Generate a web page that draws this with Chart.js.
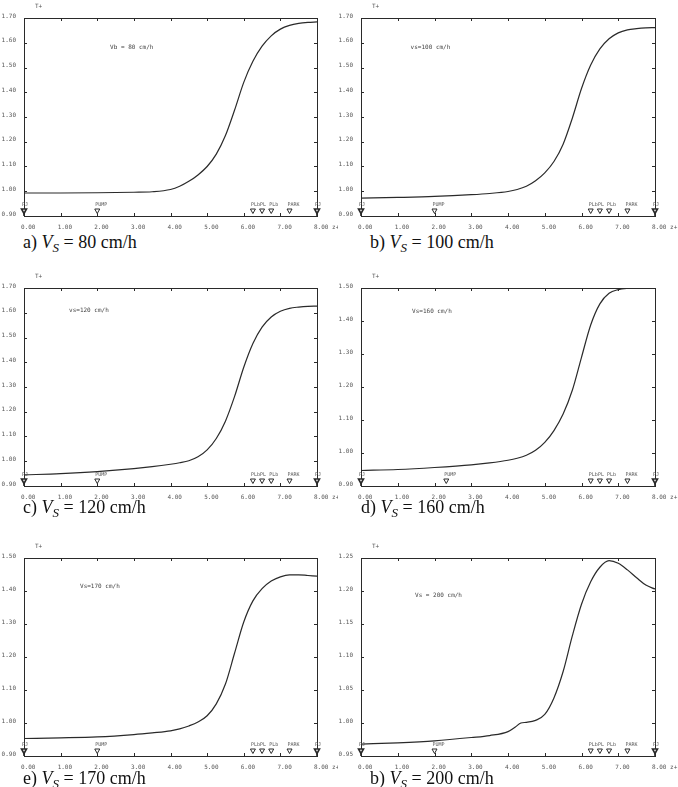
<!DOCTYPE html>
<html>
<head>
<meta charset="utf-8">
<script src="https://cdn.jsdelivr.net/npm/chart.js@4/dist/chart.umd.min.js"></script>
<style>
    body { margin: 0; background: #fff; width: 678px; height: 787px; position: relative; overflow: hidden; }
    .panel { position: absolute; }
    .caption { position: absolute; font-family: "Liberation Serif", "Times New Roman", serif; font-size: 18px; line-height: 18px; color: #111; white-space: nowrap; }
    .caption sub { font-size: 13px; vertical-align: -4px; line-height: 0; }
</style>
</head>
<body>
<script>
// DATA
const xGrid = [0, 1, 2, 3, 3.5, 4, 4.25, 4.5, 4.75, 5, 5.25, 5.5, 5.75, 6, 6.25, 6.5, 6.75, 7, 7.25, 7.5, 7.75, 8];
const seriesA = [0.993, 0.993, 0.994, 0.996, 0.998, 1.007, 1.020, 1.040, 1.066, 1.100, 1.150, 1.225, 1.328, 1.440, 1.525, 1.586, 1.628, 1.655, 1.670, 1.678, 1.682, 1.684];
const seriesB = [0.972, 0.975, 0.979, 0.986, 0.991, 0.999, 1.007, 1.020, 1.042, 1.074, 1.120, 1.190, 1.295, 1.415, 1.510, 1.575, 1.616, 1.640, 1.652, 1.657, 1.660, 1.661];
const seriesC = [0.945, 0.950, 0.958, 0.970, 0.978, 0.988, 0.994, 1.002, 1.018, 1.046, 1.092, 1.162, 1.262, 1.380, 1.476, 1.542, 1.583, 1.606, 1.618, 1.623, 1.626, 1.627];
const seriesD = [0.947, 0.950, 0.956, 0.964, 0.970, 0.978, 0.984, 0.993, 1.008, 1.032, 1.068, 1.118, 1.190, 1.290, 1.388, 1.452, 1.484, 1.495, 1.499, 1.500, 1.500, 1.500];
const seriesE = [0.953, 0.955, 0.958, 0.965, 0.970, 0.976, 0.982, 0.991, 1.003, 1.022, 1.058, 1.118, 1.212, 1.306, 1.370, 1.407, 1.430, 1.443, 1.449, 1.449, 1.447, 1.445];
const xGridF = [0, 1, 2, 3, 3.5, 4, 4.2, 4.35, 4.5, 4.75, 5, 5.25, 5.5, 5.75, 6, 6.25, 6.5, 6.75, 7, 7.25, 7.5, 7.75, 8];
const seriesF = [0.968, 0.970, 0.973, 0.978, 0.981, 0.987, 0.994, 1.000, 1.001, 1.004, 1.013, 1.038, 1.078, 1.132, 1.180, 1.214, 1.236, 1.246, 1.242, 1.232, 1.220, 1.209, 1.203];

const xTicks = [0, 1, 2, 3, 4, 5, 6, 7, 8];
const xTickLabels = ['0.00', '1.00', '2.00', '3.00', '4.00', '5.00', '6.00', '7.00', '8.00 z+'];
const yTicksWide = [0.90, 1.00, 1.10, 1.20, 1.30, 1.40, 1.50, 1.60, 1.70];
const yTicksMid = [0.90, 1.00, 1.10, 1.20, 1.30, 1.40, 1.50];
const yTicksNarrow = [0.95, 1.00, 1.05, 1.10, 1.15, 1.20, 1.25];

const markerNames = ['PJ', 'PUMP', 'PLb', 'PL', 'PLb', 'PARK', 'PJ'];
const markerPos = [0, 2.0, 6.25, 6.5, 6.75, 7.25, 8];
const markerPosD = [0, 2.32, 6.25, 6.5, 6.75, 7.25, 8];

const noteTexts = ['Vb = 80 cm/h', 'vs=100 cm/h', 'vs=120 cm/h', 'Vs=160 cm/h', 'Vs=170 cm/h', 'Vs = 200 cm/h'];
const speeds = ['80', '100', '120', '160', '170', '200'];
const letters = ['a)', 'b)', 'c)', 'd)', 'e)', 'b)'];

// LAYOUT
const panels = [
    { x: xGrid, y: seriesA, yTicks: yTicksWide, markers: markerPos, left: 0, top: 0, w: 338, note: [2.35, 1.58], cap: [23, 233] },
    { x: xGrid, y: seriesB, yTicks: yTicksWide, markers: markerPos, left: 338, top: 0, w: 340, note: [1.35, 1.58], cap: [370, 233] },
    { x: xGrid, y: seriesC, yTicks: yTicksWide, markers: markerPos, left: 0, top: 270, w: 338, note: [1.23, 1.61], cap: [23, 498] },
    { x: xGrid, y: seriesD, yTicks: yTicksMid, markers: markerPosD, left: 338, top: 270, w: 340, note: [1.39, 1.43], cap: [361, 498] },
    { x: xGrid, y: seriesE, yTicks: yTicksMid, markers: markerPos, left: 0, top: 540, w: 338, note: [1.53, 1.415], cap: [23, 769] },
    { x: xGridF, y: seriesF, yTicks: yTicksNarrow, markers: markerPos, left: 338, top: 540, w: 340, note: [1.47, 1.194], cap: [370, 769] }
];
const areaLeft = 24, areaTop = 18, areaRight = 317, areaBottom = 216, canvasH = 232;
const smallFont = '6px "DejaVu Sans Mono", monospace';
const tinyFont = '5px "DejaVu Sans Mono", monospace';
const ink = '#2a2a2a';

// FRAME PLUGIN: box, inward ticks, labels, markers, notes
const framePlugin = {
    id: 'frame',
    afterDatasetsDraw(chart, args, opts) {
        const ctx = chart.ctx;
        const area = chart.chartArea;
        const xs = chart.scales.x;
        const ys = chart.scales.y;
        ctx.save();
        ctx.strokeStyle = ink;
        ctx.lineWidth = 1;
        ctx.strokeRect(Math.round(area.left) + 0.5, Math.round(area.top) + 0.5,
            Math.round(area.right - area.left), Math.round(area.bottom - area.top));

        // ticks
        ctx.beginPath();
        xTicks.forEach(v => {
            const px = Math.round(xs.getPixelForValue(v)) + 0.5;
            ctx.moveTo(px, area.top); ctx.lineTo(px, area.top + 3);
            ctx.moveTo(px, area.bottom); ctx.lineTo(px, area.bottom - 3);
        });
        opts.yTicks.forEach(v => {
            const py = Math.round(ys.getPixelForValue(v)) + 0.5;
            ctx.moveTo(area.left, py); ctx.lineTo(area.left + 3, py);
            ctx.moveTo(area.right, py); ctx.lineTo(area.right - 3, py);
        });
        ctx.stroke();

        // tick labels
        ctx.font = smallFont;
        ctx.fillStyle = '#555';
        ctx.textBaseline = 'middle';
        ctx.textAlign = 'left';
        xTicks.forEach((v, i) => {
            ctx.fillText(xTickLabels[i], xs.getPixelForValue(v) - 3, area.bottom + 11);
        });
        ctx.textAlign = 'right';
        opts.yTicks.forEach(v => {
            ctx.fillText(v.toFixed(2), area.left - 8, ys.getPixelForValue(v) - 2);
        });
        ctx.textAlign = 'left';
        ctx.fillText('T+', area.left + 11, area.top - 12);

        // markers on the baseline
        ctx.font = tinyFont;
        opts.markers.forEach((v, i) => {
            const px = xs.getPixelForValue(v);
            const edge = i === 0 || i === opts.markers.length - 1;
            ctx.beginPath();
            ctx.moveTo(px - 2.5, area.bottom - 7);
            ctx.lineTo(px + 2.5, area.bottom - 7);
            ctx.lineTo(px, area.bottom - 2.5);
            ctx.closePath();
            ctx.fillStyle = '#fff';
            ctx.fill();
            ctx.lineWidth = edge ? 1.6 : 1;
            ctx.stroke();
            if (edge) {
                ctx.beginPath();
                ctx.moveTo(px, area.bottom - 3);
                ctx.lineTo(px, area.bottom);
                ctx.stroke();
            }
            ctx.fillStyle = '#555';
            ctx.fillText(markerNames[i], px - 2, area.bottom - 11);
        });

        // annotation
        ctx.font = smallFont;
        ctx.fillStyle = '#444';
        ctx.fillText(opts.note, xs.getPixelForValue(opts.noteAt[0]), ys.getPixelForValue(opts.noteAt[1]));
        ctx.restore();
    }
};

// BUILD CHARTS
panels.forEach((p, i) => {
    const wrap = document.createElement('div');
    wrap.className = 'panel';
    wrap.style.left = p.left + 'px';
    wrap.style.top = p.top + 'px';
    const canvas = document.createElement('canvas');
    canvas.width = p.w;
    canvas.height = canvasH;
    canvas.style.width = p.w + 'px';
    canvas.style.height = canvasH + 'px';
    wrap.appendChild(canvas);
    document.body.appendChild(wrap);

    const inset = p.left === 0 ? 0 : -1;
    new Chart(canvas, {
        type: 'line',
        data: {
            datasets: [{
                data: p.x.map((x, k) => ({ x: x, y: p.y[k] })),
                borderColor: ink,
                borderWidth: 1.2,
                pointRadius: 0,
                fill: false,
                cubicInterpolationMode: 'monotone'
            }]
        },
        options: {
            responsive: false,
            animation: false,
            devicePixelRatio: 1,
            layout: {
                padding: { left: areaLeft + inset, top: areaTop, right: p.w - areaRight, bottom: canvasH - areaBottom }
            },
            scales: {
                x: { type: 'linear', min: 0, max: 8, display: false },
                y: { type: 'linear', min: p.yTicks[0], max: p.yTicks[p.yTicks.length - 1], display: false }
            },
            plugins: {
                legend: { display: false },
                tooltip: { enabled: false },
                frame: { yTicks: p.yTicks, markers: p.markers, note: noteTexts[i], noteAt: p.note }
            }
        },
        plugins: [framePlugin]
    });

    const cap = document.createElement('div');
    cap.className = 'caption';
    cap.style.left = p.cap[0] + 'px';
    cap.style.top = p.cap[1] + 'px';
    cap.innerHTML = letters[i] + ' <i>V</i><sub><i>S</i></sub> = ' + speeds[i] + ' cm/h';
    document.body.appendChild(cap);
});
</script>
</body>
</html>
